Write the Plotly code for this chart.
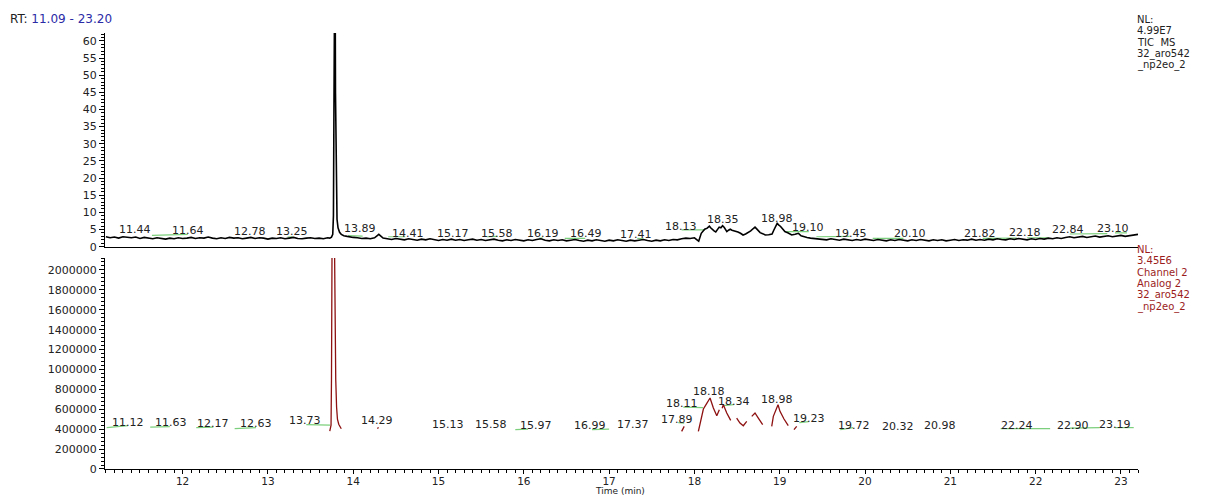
import plotly.graph_objects as go

# ---------------- data ----------------
# TIC MS trace (relative abundance, retention time in min)
tic_time = [
    11.10, 11.15, 11.20, 11.25, 11.30, 11.35, 11.40, 11.45, 11.50, 11.55,
    11.60, 11.65, 11.70, 11.75, 11.80, 11.85, 11.90, 11.95, 12.00, 12.05,
    12.10, 12.15, 12.20, 12.25, 12.30, 12.35, 12.40, 12.45, 12.50, 12.55,
    12.60, 12.65, 12.70, 12.75, 12.80, 12.85, 12.90, 12.95, 13.00, 13.05,
    13.10, 13.15, 13.20, 13.25, 13.30, 13.35, 13.40, 13.45, 13.50, 13.55,
    13.60, 13.65, 13.70, 13.725, 13.745, 13.760, 13.768, 13.774, 13.780, 13.786,
    13.792, 13.800, 13.810, 13.822, 13.840, 13.860, 13.890, 13.930, 13.960, 14.00,
    14.05, 14.10, 14.15, 14.20, 14.25, 14.30, 14.35, 14.40, 14.45, 14.50,
    14.55, 14.60, 14.65, 14.70, 14.75, 14.80, 14.85, 14.90, 14.95, 15.00,
    15.05, 15.10, 15.15, 15.20, 15.25, 15.30, 15.35, 15.40, 15.45, 15.50,
    15.55, 15.60, 15.65, 15.70, 15.75, 15.80, 15.85, 15.90, 15.95, 16.00,
    16.05, 16.10, 16.15, 16.20, 16.25, 16.30, 16.35, 16.40, 16.45, 16.50,
    16.55, 16.60, 16.65, 16.70, 16.75, 16.80, 16.85, 16.90, 16.95, 17.00,
    17.05, 17.10, 17.15, 17.20, 17.25, 17.30, 17.35, 17.40, 17.45, 17.50,
    17.55, 17.60, 17.65, 17.70, 17.75, 17.80, 17.85, 17.90, 17.95, 18.00,
    18.03, 18.05, 18.08, 18.10, 18.12, 18.15, 18.175, 18.19, 18.21, 18.23,
    18.25, 18.27, 18.29, 18.31, 18.33, 18.35, 18.38, 18.40, 18.42, 18.44,
    18.46, 18.49, 18.51, 18.54, 18.57, 18.60, 18.63, 18.66, 18.69, 18.71,
    18.73, 18.77, 18.80, 18.83, 18.87, 18.91, 18.93, 18.95, 18.97, 18.99,
    19.01, 19.04, 19.06, 19.10, 19.14, 19.18, 19.22, 19.25, 19.28, 19.32,
    19.36, 19.40, 19.45, 19.50, 19.55, 19.60, 19.65, 19.70, 19.75, 19.80,
    19.85, 19.90, 19.95, 20.00, 20.05, 20.10, 20.15, 20.20, 20.25, 20.30,
    20.35, 20.40, 20.45, 20.50, 20.55, 20.60, 20.65, 20.70, 20.75, 20.80,
    20.85, 20.90, 20.95, 21.00, 21.05, 21.10, 21.15, 21.20, 21.25, 21.30,
    21.35, 21.40, 21.45, 21.50, 21.55, 21.60, 21.65, 21.70, 21.75, 21.80,
    21.85, 21.90, 21.95, 22.00, 22.05, 22.10, 22.15, 22.20, 22.25, 22.30,
    22.35, 22.40, 22.45, 22.50, 22.55, 22.60, 22.65, 22.70, 22.75, 22.80,
    22.85, 22.90, 22.95, 23.00, 23.05, 23.10, 23.15, 23.20,
]
tic_value = [
    2.9, 2.6, 2.8, 2.5, 2.9, 2.7, 2.6, 2.8, 2.4, 2.7,
    2.5, 2.3, 2.6, 2.4, 2.2, 2.5, 2.3, 2.6, 2.4, 2.5,
    2.7, 2.4, 2.6, 2.5, 2.8, 2.5, 2.3, 2.6, 2.4, 2.7,
    2.5, 2.6, 2.3, 2.5, 2.7, 2.4, 2.6, 2.5, 2.2, 2.5,
    2.4, 2.6, 2.3, 2.5, 2.7, 2.4, 2.3, 2.5, 2.6, 2.4,
    2.5, 2.3, 2.6, 2.5, 2.8, 3.6, 9.0, 40.0, 95.0, 95.0,
    45.0, 15.0, 8.0, 5.5, 4.2, 3.6, 3.2, 3.0, 2.8, 2.7,
    2.6, 2.4, 2.5, 2.3, 2.6, 3.6, 2.5, 2.3, 2.1, 2.4,
    2.2, 2.0, 2.3, 2.1, 1.9, 2.2, 2.0, 2.3, 2.0, 1.8,
    2.1, 1.9, 2.2, 1.9, 2.1, 1.8, 2.0, 2.2, 1.9, 2.1,
    1.8, 2.0, 2.2, 1.9, 1.7, 2.0, 1.8, 2.1, 1.9, 1.7,
    2.0, 1.8, 2.1, 2.3, 1.9, 1.7, 2.0, 1.8, 2.0, 1.7,
    1.9, 2.1, 1.8, 1.6, 1.9, 1.7, 2.0, 1.8, 1.6, 1.9,
    1.7, 2.0, 1.8, 1.6, 1.9, 1.7, 1.9, 2.1, 1.8, 1.6,
    1.9, 1.7, 2.0, 1.8, 2.1, 2.0, 2.3, 2.5, 2.4, 2.6,
    2.0, 1.6, 3.9, 4.6, 5.1, 5.4, 6.0, 5.5, 4.9, 4.6,
    4.3, 4.9, 5.7, 5.5, 6.1, 5.6, 4.4, 4.8, 5.1, 4.8,
    4.7, 4.5, 4.3, 3.9, 3.4, 3.7, 4.1, 4.6, 5.3, 5.7,
    5.2, 4.1, 3.8, 3.4, 3.5, 3.7, 4.8, 6.0, 6.8, 6.3,
    5.9, 5.0, 4.4, 4.0, 3.4, 3.6, 3.9, 3.2, 2.9, 2.7,
    2.5, 2.4, 2.3, 2.2, 2.0, 2.3, 2.1, 1.9, 2.2, 2.0,
    1.8, 2.1, 1.9, 2.2, 2.0, 1.8, 2.1, 1.9, 1.7, 2.0,
    1.8, 2.1, 1.9, 1.7, 2.0, 1.8, 2.1, 1.9, 1.7, 2.0,
    1.8, 2.0, 1.7, 1.9, 2.1, 1.8, 2.0, 1.9, 2.2, 1.9,
    2.1, 1.9, 2.2, 2.0, 2.3, 2.1, 2.0, 2.3, 2.1, 2.4,
    2.2, 2.0, 2.3, 2.1, 2.4, 2.2, 2.5, 2.3, 2.6, 2.4,
    2.7, 2.9, 2.6, 2.8, 3.0, 2.7, 2.9, 3.1, 2.8, 3.0,
    3.2, 2.9, 3.1, 3.3, 3.0, 3.2, 3.4, 3.6,
]

# Analog channel 2 trace (only the integrated regions are recorded; None = gap)
ch2_time = [
    13.725, 13.735, 13.740, 13.745, 13.752, 13.780, 13.788, 13.795, 13.805, 13.815, 13.830, 13.845, 13.860, None,
    14.285, 14.295, None,
    17.850, 17.880, None,
    18.046, 18.105, 18.136, 18.183, 18.222, 18.262, 18.292, None,
    18.325, 18.339, 18.379, 18.425, None,
    18.495, 18.534, 18.573, 18.613, None,
    18.672, 18.710, 18.749, 18.800, None,
    18.906, 18.925, 18.980, 19.003, 19.050, 19.100, None,
    19.167, 19.199,
]
ch2_value = [
    380000, 410000, 440000, 900000, 2300000, 2300000, 1300000, 900000, 620000, 500000, 450000, 420000, 405000, None,
    405000, 420000, None,
    378000, 428000, None,
    378000, 603000, 646000, 713000, 613000, 536000, 596000, None,
    610000, 646000, 563000, 489000, None,
    512000, 462000, 435000, 478000, None,
    529000, 563000, 512000, 445000, None,
    428000, 529000, 646000, 579000, 502000, 435000, None,
    395000, 428000,
]

# Integration baselines (start time, start value, end time, end value)
tic_base = [
    (11.64, 3.3, 12.06, 3.6), (13.23, 2.8, 13.29, 2.9), (13.94, 3.2, 14.11, 3.1),
    (14.41, 2.9, 14.61, 2.9), (15.57, 2.9, 15.69, 3.0), (16.18, 2.4, 16.22, 2.6),
    (16.48, 2.4, 16.72, 2.4), (17.33, 2.4, 17.40, 2.3), (17.85, 4.9, 18.12, 4.9),
    (19.08, 4.4, 19.34, 4.4), (19.43, 2.9, 19.82, 3.0), (20.09, 2.4, 20.45, 2.4),
    (21.38, 2.4, 21.78, 2.5), (21.90, 2.6, 22.15, 2.6), (22.40, 3.7, 22.84, 3.8),
    (22.93, 4.0, 23.07, 4.0),
]
ch2_base = [
    (11.11, 416000, 11.36, 436000), (11.62, 421000, 11.85, 426000),
    (12.16, 416000, 12.36, 421000), (12.61, 406000, 12.86, 416000),
    (13.45, 446000, 13.73, 441000), (15.90, 396000, 16.05, 401000),
    (16.80, 396000, 17.00, 401000), (17.81, 466000, 17.88, 461000),
    (17.87, 622000, 18.10, 617000), (18.34, 637000, 18.46, 647000),
    (19.23, 466000, 19.34, 476000), (19.71, 396000, 19.86, 416000),
    (21.59, 406000, 22.17, 406000), (22.40, 411000, 22.75, 416000),
    (22.93, 416000, 23.15, 416000),
]

# Peak labels: (text, x position, y position)
tic_labels = [
    ("11.44", 11.44, 4.9), ("11.64", 12.06, 4.6), ("12.78", 12.79, 4.3),
    ("13.25", 13.28, 4.3), ("13.89", 14.08, 5.2), ("14.41", 14.64, 3.9),
    ("15.17", 15.17, 3.9), ("15.58", 15.69, 3.9), ("16.19", 16.22, 3.8),
    ("16.49", 16.73, 3.7), ("17.41", 17.31, 3.6), ("18.13", 17.84, 6.0),
    ("18.35", 18.33, 7.8), ("18.98", 18.97, 8.3), ("19.10", 19.33, 5.7),
    ("19.45", 19.84, 3.9), ("20.10", 20.53, 3.7), ("21.82", 21.35, 3.9),
    ("22.18", 21.88, 4.2), ("22.84", 22.38, 4.9), ("23.10", 22.91, 5.4),
]
ch2_labels = [
    ("11.12", 11.36, 466000), ("11.63", 11.86, 466000), ("12.17", 12.36, 456000),
    ("12.63", 12.86, 456000), ("13.73", 13.43, 486000), ("14.29", 14.28, 486000),
    ("15.13", 15.11, 446000), ("15.58", 15.62, 446000), ("15.97", 16.14, 436000),
    ("16.99", 16.78, 436000), ("17.37", 17.28, 446000), ("17.89", 17.80, 496000),
    ("18.11", 17.85, 657000), ("18.18", 18.17, 777000), ("18.34", 18.46, 677000),
    ("18.98", 18.97, 697000), ("19.23", 19.34, 506000), ("19.72", 19.87, 436000),
    ("20.32", 20.39, 426000), ("20.98", 20.88, 436000), ("22.24", 21.78, 436000),
    ("22.90", 22.44, 436000), ("23.19", 22.93, 446000),
]

tic_info = ["NL:", "4.99E7", "TIC\u00a0\u00a0MS", "32_aro542", "_np2eo_2"]
ch2_info = ["NL:", "3.45E6", "Channel 2", "Analog 2", "32_aro542", "_np2eo_2"]

# ---------------- styling ----------------
FONT = "DejaVu Sans"
TXT = "#222222"
GREEN = "#7ccf7c"
RED = "#8e1111"
RED_TXT = "#9b1c1c"
INFO_STEP = 11.6


def segments(rows):
    xs, ys = [], []
    for t0, v0, t1, v1 in rows:
        xs += [t0, t1, None]
        ys += [v0, v1, None]
    return xs, ys


fig = go.Figure()

bx, by = segments(tic_base)
fig.add_trace(go.Scatter(x=bx, y=by, mode="lines", xaxis="x2", yaxis="y2",
                         line=dict(color=GREEN, width=1.2), hoverinfo="skip"))
fig.add_trace(go.Scatter(x=tic_time, y=tic_value, mode="lines", xaxis="x2", yaxis="y2",
                         line=dict(color="black", width=1.6)))

bx, by = segments(ch2_base)
fig.add_trace(go.Scatter(x=bx, y=by, mode="lines", xaxis="x", yaxis="y",
                         line=dict(color=GREEN, width=1.2), hoverinfo="skip"))
fig.add_trace(go.Scatter(x=ch2_time, y=ch2_value, mode="lines", xaxis="x", yaxis="y",
                         connectgaps=False, line=dict(color=RED, width=1.3)))

ann = []
for text, x, y in tic_labels:
    ann.append(dict(text=text, x=x, y=y, xref="x2", yref="y2", showarrow=False,
                    font=dict(family=FONT, size=11, color=TXT)))
for text, x, y in ch2_labels:
    ann.append(dict(text=text, x=x, y=y, xref="x", yref="y", showarrow=False,
                    font=dict(family=FONT, size=11, color=TXT)))

for i, line in enumerate(tic_info):
    ann.append(dict(text=line, xref="paper", yref="paper", x=1.0, y=1.0,
                    xanchor="left", yanchor="middle", xshift=-3, yshift=14 - INFO_STEP * i,
                    showarrow=False, font=dict(family=FONT, size=10, color=TXT)))
for i, line in enumerate(ch2_info):
    ann.append(dict(text=line, xref="paper", yref="paper", x=1.0, y=0.4839,
                    xanchor="left", yanchor="middle", xshift=-3, yshift=9 - INFO_STEP * i,
                    showarrow=False, font=dict(family=FONT, size=10, color=RED_TXT)))

ann.append(dict(text="RT: <span style='color:#2b2ba6'>11.09 - 23.20</span>",
                xref="paper", yref="paper", x=0, y=1.0, xanchor="left", yanchor="middle",
                xshift=-97, yshift=14, showarrow=False,
                font=dict(family=FONT, size=12, color=TXT)))
ann.append(dict(text="Time (min)", xref="paper", yref="paper", x=0.4985, y=0,
                xanchor="center", yanchor="middle", yshift=-21.5, showarrow=False,
                font=dict(family=FONT, size=9, color=TXT)))

tick_font = dict(family=FONT, size=11, color=TXT)
axis_common = dict(showline=True, linecolor="black", linewidth=1, showgrid=False,
                   zeroline=False, automargin=False)

fig.update_layout(
    width=1208, height=496,
    margin=dict(l=105, r=70, t=33, b=27),
    paper_bgcolor="white", plot_bgcolor="white",
    showlegend=False,
    annotations=ann,
    xaxis=dict(domain=[0, 1], anchor="y", range=[11.09, 23.20], dtick=1, tick0=11,
               ticks="outside", ticklen=4, tickcolor="black", ticklabelstandoff=-2,
               tickfont=dict(family=FONT, size=10.5, color=TXT),
               minor=dict(dtick=0.1, tick0=11, ticks="outside", ticklen=3, tickcolor="black"),
               **axis_common),
    xaxis2=dict(domain=[0, 1], anchor="y2", matches="x", range=[11.09, 23.20],
                showticklabels=False, ticks="", **axis_common),
    yaxis=dict(domain=[0, 0.4839], anchor="x", range=[0, 2120000], dtick=200000,
               tickformat="d", ticks="outside", ticklen=5, tickcolor="black", tickfont=tick_font,
               minor=dict(dtick=40000, ticks="outside", ticklen=3, tickcolor="black"),
               **axis_common),
    yaxis2=dict(domain=[0.5099, 1], anchor="x2", range=[0, 62.3], dtick=5,
                ticks="outside", ticklen=5, tickcolor="black", tickfont=tick_font,
                minor=dict(dtick=1, ticks="outside", ticklen=3, tickcolor="black"),
                **axis_common),
)

fig.write_html("out.html")
